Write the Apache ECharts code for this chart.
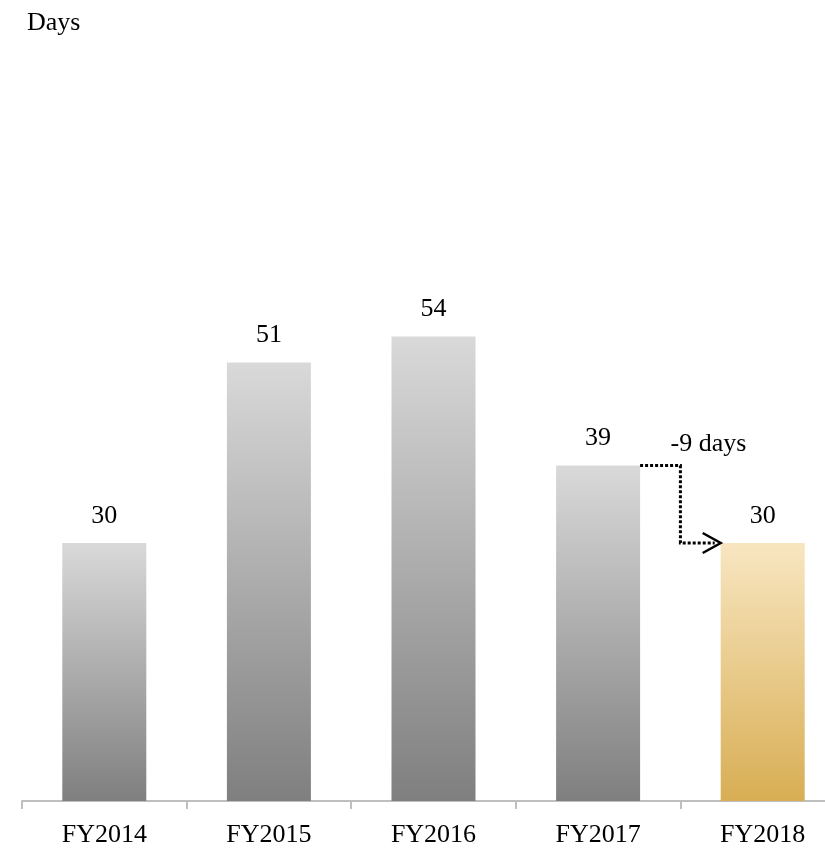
<!DOCTYPE html>
<html>
<head>
<meta charset="utf-8">
<style>
  html, body { margin: 0; padding: 0; background: #ffffff; overflow: hidden; }
  /* the axis runs slightly past the right edge of the view */
  #chart { width: 845px; height: 853px; }
</style>
<script src="https://cdn.jsdelivr.net/npm/echarts@6/dist/echarts.min.js"></script>
</head>
<body>
<div id="chart"></div>
<script>
// Days per fiscal year
const categories = ['FY2014', 'FY2015', 'FY2016', 'FY2017', 'FY2018'];
const days = [30, 51, 54, 39, 30];
const unitLabel = 'Days';
// Change annotation between the last two years
const changeFrom = 3;
const changeTo = 4;
const changeText = '-9 days';

const FONT = '"Liberation Serif", "DejaVu Serif", serif';
const FS = 26;
const BAR_W = 84;

const greyFill = {
  type: 'linear', x: 0, y: 0, x2: 0, y2: 1,
  colorStops: [{ offset: 0, color: '#d9d9d9' }, { offset: 1, color: '#7f7f7f' }]
};
const goldFill = {
  type: 'linear', x: 0, y: 0, x2: 0, y2: 1,
  colorStops: [{ offset: 0, color: '#f8e6c1' }, { offset: 1, color: '#d8ae54' }]
};

const barData = days.map((v, i) => ({
  value: v,
  itemStyle: { color: i === categories.length - 1 ? goldFill : greyFill }
}));

const chart = echarts.init(document.getElementById('chart'), null, { renderer: 'canvas' });

chart.setOption({
  animation: false,
  title: {
    text: unitLabel,
    left: 22, top: 5,
    textStyle: { fontFamily: FONT, fontSize: FS, fontWeight: 'normal', color: '#000' }
  },
  grid: { left: 22, right: 0, top: 113, bottom: 52, containLabel: false },
  xAxis: {
    type: 'category',
    data: categories,
    boundaryGap: true,
    axisLine: { lineStyle: { color: '#bfbfbf', width: 2 } },
    axisTick: { show: true, length: 8, lineStyle: { color: '#bfbfbf', width: 2 } },
    axisLabel: { fontFamily: FONT, fontSize: FS, color: '#000', margin: 21 }
  },
  yAxis: {
    type: 'value', min: 0, max: 80,
    show: false, splitLine: { show: false }
  },
  series: [
    {
      type: 'bar',
      data: barData,
      barWidth: BAR_W,
      label: {
        show: true, position: 'top', distance: 14,
        fontFamily: FONT, fontSize: FS, color: '#000'
      }
    },
    {
      // dotted elbow connector with open arrowhead and change text
      type: 'custom',
      data: [[changeFrom, days[changeFrom], changeTo, days[changeTo]]],
      z: 5,
      renderItem: function (params, api) {
        const p1 = api.coord([api.value(0), api.value(1)]);
        const p2 = api.coord([api.value(2), api.value(3)]);
        const half = BAR_W / 2;
        const x0 = p1[0] + half;
        const xm = (p1[0] + p2[0]) / 2;
        const x1 = p2[0] - half;
        const y0 = p1[1];
        const y1 = p2[1];
        const dotted = { stroke: '#000', lineWidth: 3, lineDash: [3, 2], fill: null };
        return {
          type: 'group',
          children: [
            {
              type: 'polyline',
              shape: { points: [[x0, y0], [xm, y0], [xm, y1], [x1 - 6, y1]] },
              style: dotted
            },
            {
              type: 'polyline',
              shape: { points: [[x1 - 18, y1 - 10], [x1, y1], [x1 - 18, y1 + 10]] },
              style: { stroke: '#000', lineWidth: 2.5, fill: null }
            },
            {
              type: 'text',
              style: {
                x: xm + 28, y: y0 - 8,
                text: changeText,
                fontFamily: FONT, fontSize: FS, fill: '#000',
                textAlign: 'center', textVerticalAlign: 'bottom'
              }
            }
          ]
        };
      }
    }
  ]
});
</script>
</body>
</html>
